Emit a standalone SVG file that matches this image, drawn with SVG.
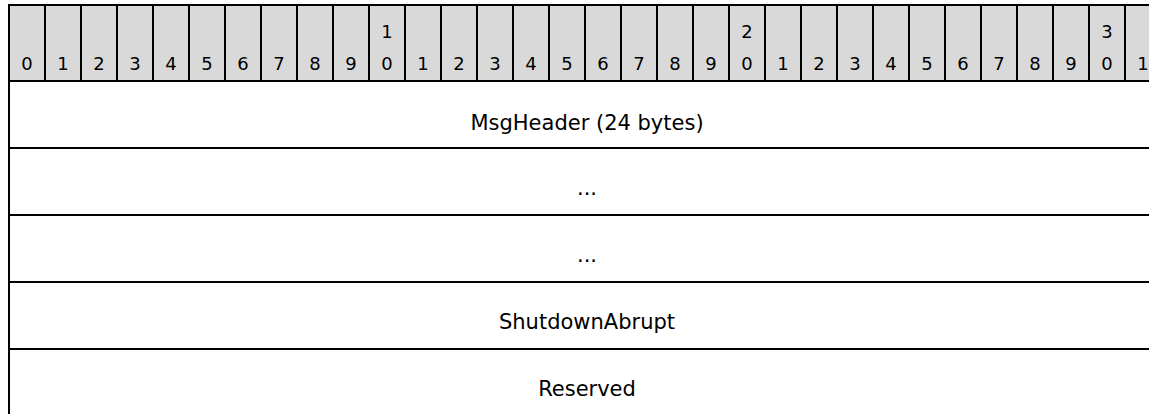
<svg xmlns="http://www.w3.org/2000/svg" width="1149" height="414" viewBox="0 0 1149 414">
<style>
.ln{stroke:#000;stroke-width:2;fill:none}
.d{font-family:"DejaVu Sans",Verdana,sans-serif;font-size:18px;fill:#000;text-anchor:middle}
.f{font-family:"DejaVu Sans",Verdana,sans-serif;font-size:21px;fill:#000;text-anchor:middle}
</style>
<rect width="1149" height="414" fill="#fff"/>
<g id="header">
<rect x="9" y="5" width="1140" height="76" fill="#d9d9d9"/>
<text class="d" x="27" y="70">0</text>
<text class="d" x="63" y="70">1</text>
<text class="d" x="99" y="70">2</text>
<text class="d" x="135" y="70">3</text>
<text class="d" x="171" y="70">4</text>
<text class="d" x="207" y="70">5</text>
<text class="d" x="243" y="70">6</text>
<text class="d" x="279" y="70">7</text>
<text class="d" x="315" y="70">8</text>
<text class="d" x="351" y="70">9</text>
<text class="d" x="387" y="38">1</text><text class="d" x="387" y="70">0</text>
<text class="d" x="423" y="70">1</text>
<text class="d" x="459" y="70">2</text>
<text class="d" x="495" y="70">3</text>
<text class="d" x="531" y="70">4</text>
<text class="d" x="567" y="70">5</text>
<text class="d" x="603" y="70">6</text>
<text class="d" x="639" y="70">7</text>
<text class="d" x="675" y="70">8</text>
<text class="d" x="711" y="70">9</text>
<text class="d" x="747" y="38">2</text><text class="d" x="747" y="70">0</text>
<text class="d" x="783" y="70">1</text>
<text class="d" x="819" y="70">2</text>
<text class="d" x="855" y="70">3</text>
<text class="d" x="891" y="70">4</text>
<text class="d" x="927" y="70">5</text>
<text class="d" x="963" y="70">6</text>
<text class="d" x="999" y="70">7</text>
<text class="d" x="1035" y="70">8</text>
<text class="d" x="1071" y="70">9</text>
<text class="d" x="1107" y="38">3</text><text class="d" x="1107" y="70">0</text>
<text class="d" x="1143" y="70">1</text>
<path class="ln" d="M45 5V81M81 5V81M117 5V81M153 5V81M189 5V81M225 5V81M261 5V81M297 5V81M333 5V81M369 5V81M405 5V81M441 5V81M477 5V81M513 5V81M549 5V81M585 5V81M621 5V81M657 5V81M693 5V81M729 5V81M765 5V81M801 5V81M837 5V81M873 5V81M909 5V81M945 5V81M981 5V81M1017 5V81M1053 5V81M1089 5V81M1125 5V81"/>
</g>
<g id="fields">
<g id="f-msgheader"><text class="f" x="587" y="130">MsgHeader (24 bytes)</text></g>
<g id="f-dots1"><text class="f" x="587" y="195">...</text></g>
<g id="f-dots2"><text class="f" x="587" y="262">...</text></g>
<g id="f-shutdown"><text class="f" x="587" y="329">ShutdownAbrupt</text></g>
<g id="f-reserved"><text class="f" x="587" y="396">Reserved</text></g>
</g>
<g id="connectors">
<path class="ln" d="M9 5H1149M9 81H1149M9 148H1149M9 215H1149M9 282H1149M9 349H1149M9 4V414"/>
</g>
</svg>
